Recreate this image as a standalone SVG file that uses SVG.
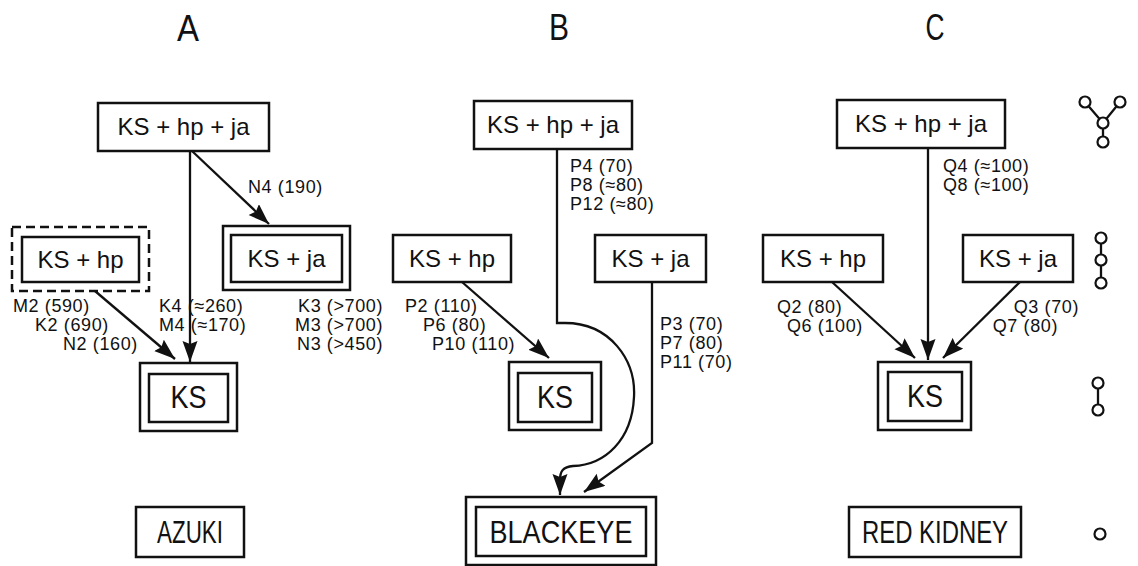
<svg xmlns="http://www.w3.org/2000/svg" width="1138" height="566" viewBox="0 0 1138 566">
<defs>
<style>
.box{fill:none;stroke:#111;stroke-width:2.5}
.dash{fill:none;stroke:#111;stroke-width:2.5;stroke-dasharray:9 5}
.ln{fill:none;stroke:#111;stroke-width:2.3}
.t{font-family:"Liberation Sans","DejaVu Sans",sans-serif;fill:#111;text-anchor:middle}
.big{font-size:24px}
.ks{font-size:31px}
.name{font-size:31px}
.title{font-size:36px}
.lab{font-family:"Liberation Sans","DejaVu Sans",sans-serif;font-size:18px;letter-spacing:0.6px;fill:#111}
.r{text-anchor:end}
.sym{fill:#fff;stroke:#111;stroke-width:2.2}
</style>
<marker id="ah" markerUnits="userSpaceOnUse" markerWidth="24" markerHeight="16" refX="21" refY="7.5" orient="auto">
<path d="M0,0 L21,7.5 L0,15 L3,7.5 z" fill="#111"/>
</marker>
</defs>
<rect width="1138" height="566" fill="#fff"/>

<g id="titles">
<text class="t title" x="188" y="41" textLength="22" lengthAdjust="spacingAndGlyphs">A</text>
<text class="t title" x="559" y="40" textLength="20" lengthAdjust="spacingAndGlyphs">B</text>
<text class="t title" x="935" y="40" textLength="19" lengthAdjust="spacingAndGlyphs">C</text>
</g>

<g id="connectors">
<line class="ln" x1="192" y1="151" x2="269" y2="224" marker-end="url(#ah)"/>
<line class="ln" x1="190" y1="151" x2="190" y2="362" marker-end="url(#ah)"/>
<line class="ln" x1="95" y1="291" x2="175" y2="359" marker-end="url(#ah)"/>
<line class="ln" x1="462" y1="282" x2="549" y2="358" marker-end="url(#ah)"/>
<path class="ln" d="M557,149 V323 H565 C610,323 636,360 634,397 C632,440 605,465 573,466 C563,467 560,471 560,480 L560,495" marker-end="url(#ah)"/>
<path class="ln" d="M652,282 V443 L584,492" marker-end="url(#ah)"/>
<line class="ln" x1="928" y1="148" x2="928" y2="360" marker-end="url(#ah)"/>
<line class="ln" x1="832" y1="282" x2="915" y2="358" marker-end="url(#ah)"/>
<line class="ln" x1="1020" y1="282" x2="943" y2="358" marker-end="url(#ah)"/>
</g>

<g id="labels">
<text class="lab" x="248" y="193">N4 (190)</text>
<text class="lab" x="13" y="312">M2 (590)</text>
<text class="lab" x="35" y="331">K2 (690)</text>
<text class="lab" x="63" y="350">N2 (160)</text>
<text class="lab" x="159" y="312">K4 (≈260)</text>
<text class="lab" x="159" y="331">M4 (≈170)</text>
<text class="lab r" x="383" y="312">K3 (&gt;700)</text>
<text class="lab r" x="383" y="331">M3 (&gt;700)</text>
<text class="lab r" x="383" y="350">N3 (&gt;450)</text>
<text class="lab" x="570" y="172">P4 (70)</text>
<text class="lab" x="570" y="191">P8 (≈80)</text>
<text class="lab" x="570" y="210">P12 (≈80)</text>
<text class="lab" x="405" y="312">P2 (110)</text>
<text class="lab" x="423" y="331">P6 (80)</text>
<text class="lab" x="432" y="350">P10 (110)</text>
<text class="lab" x="660" y="330">P3 (70)</text>
<text class="lab" x="660" y="349">P7 (80)</text>
<text class="lab" x="660" y="368">P11 (70)</text>
<text class="lab" x="943" y="172">Q4 (≈100)</text>
<text class="lab" x="943" y="191">Q8 (≈100)</text>
<text class="lab" x="777" y="313">Q2 (80)</text>
<text class="lab" x="787" y="332">Q6 (100)</text>
<text class="lab r" x="1079" y="313">Q3 (70)</text>
<text class="lab r" x="1058" y="332">Q7 (80)</text>
</g>

<g id="A-top"><rect class="box" x="98" y="103" width="171" height="48"/><text class="t big" x="183.5" y="135">KS + hp + ja</text></g>
<g id="A-kshp"><rect class="dash" x="12" y="227" width="137" height="64"/><rect class="box" x="22" y="237" width="117" height="45"/><text class="t big" x="80.5" y="268">KS + hp</text></g>
<g id="A-ksja"><rect class="box" x="223" y="226" width="127" height="64"/><rect class="box" x="231" y="235" width="111" height="47"/><text class="t big" x="286.5" y="267">KS + ja</text></g>
<g id="A-ks"><rect class="box" x="140" y="363" width="97" height="68"/><rect class="box" x="149" y="374" width="79" height="48"/><text class="t ks" x="188.5" y="408" textLength="36" lengthAdjust="spacingAndGlyphs">KS</text></g>
<g id="A-azuki"><rect class="box" x="136" y="507" width="108" height="50"/><text class="t name" x="190" y="543" textLength="66" lengthAdjust="spacingAndGlyphs">AZUKI</text></g>

<g id="B-top"><rect class="box" x="474" y="101" width="158" height="48"/><text class="t big" x="553" y="133">KS + hp + ja</text></g>
<g id="B-kshp"><rect class="box" x="393" y="235" width="118" height="47"/><text class="t big" x="452" y="267">KS + hp</text></g>
<g id="B-ksja"><rect class="box" x="595" y="235" width="111" height="47"/><text class="t big" x="650.5" y="267">KS + ja</text></g>
<g id="B-ks"><rect class="box" x="509" y="362" width="92" height="68"/><rect class="box" x="518" y="373" width="74" height="49"/><text class="t ks" x="555" y="408" textLength="36" lengthAdjust="spacingAndGlyphs">KS</text></g>
<g id="B-blackeye"><rect class="box" x="466" y="497" width="190" height="68"/><rect class="box" x="476" y="507" width="170" height="49"/><text class="t name" x="561" y="543" textLength="143" lengthAdjust="spacingAndGlyphs">BLACKEYE</text></g>

<g id="C-top"><rect class="box" x="837" y="100" width="168" height="48"/><text class="t big" x="921" y="132">KS + hp + ja</text></g>
<g id="C-kshp"><rect class="box" x="763" y="235" width="120" height="47"/><text class="t big" x="823" y="267">KS + hp</text></g>
<g id="C-ksja"><rect class="box" x="963" y="235" width="110" height="47"/><text class="t big" x="1018" y="267">KS + ja</text></g>
<g id="C-ks"><rect class="box" x="878" y="362" width="93" height="68"/><rect class="box" x="888" y="372" width="74" height="49"/><text class="t ks" x="925" y="407" textLength="36" lengthAdjust="spacingAndGlyphs">KS</text></g>
<g id="C-redkidney"><rect class="box" x="849" y="507" width="172" height="50"/><text class="t name" x="935" y="543" textLength="146" lengthAdjust="spacingAndGlyphs">RED KIDNEY</text></g>

<g id="sym-branched">
<path class="ln" d="M1085,102 L1103,123 L1120,102 M1103,123 L1103,142"/>
<circle class="sym" cx="1085" cy="102" r="5.5"/><circle class="sym" cx="1120" cy="102" r="5.5"/>
<circle class="sym" cx="1103" cy="123" r="5.5"/><circle class="sym" cx="1103" cy="142" r="5.5"/>
</g>
<g id="sym-three">
<path class="ln" d="M1101,238 V283"/>
<circle class="sym" cx="1101" cy="238" r="5.5"/><circle class="sym" cx="1101" cy="260" r="5.5"/><circle class="sym" cx="1101" cy="283" r="5.5"/>
</g>
<g id="sym-two">
<path class="ln" d="M1098,383 V410"/>
<circle class="sym" cx="1098" cy="383" r="5.5"/><circle class="sym" cx="1098" cy="410" r="5.5"/>
</g>
<g id="sym-one"><circle class="sym" cx="1100" cy="534" r="5.5"/></g>
</svg>
